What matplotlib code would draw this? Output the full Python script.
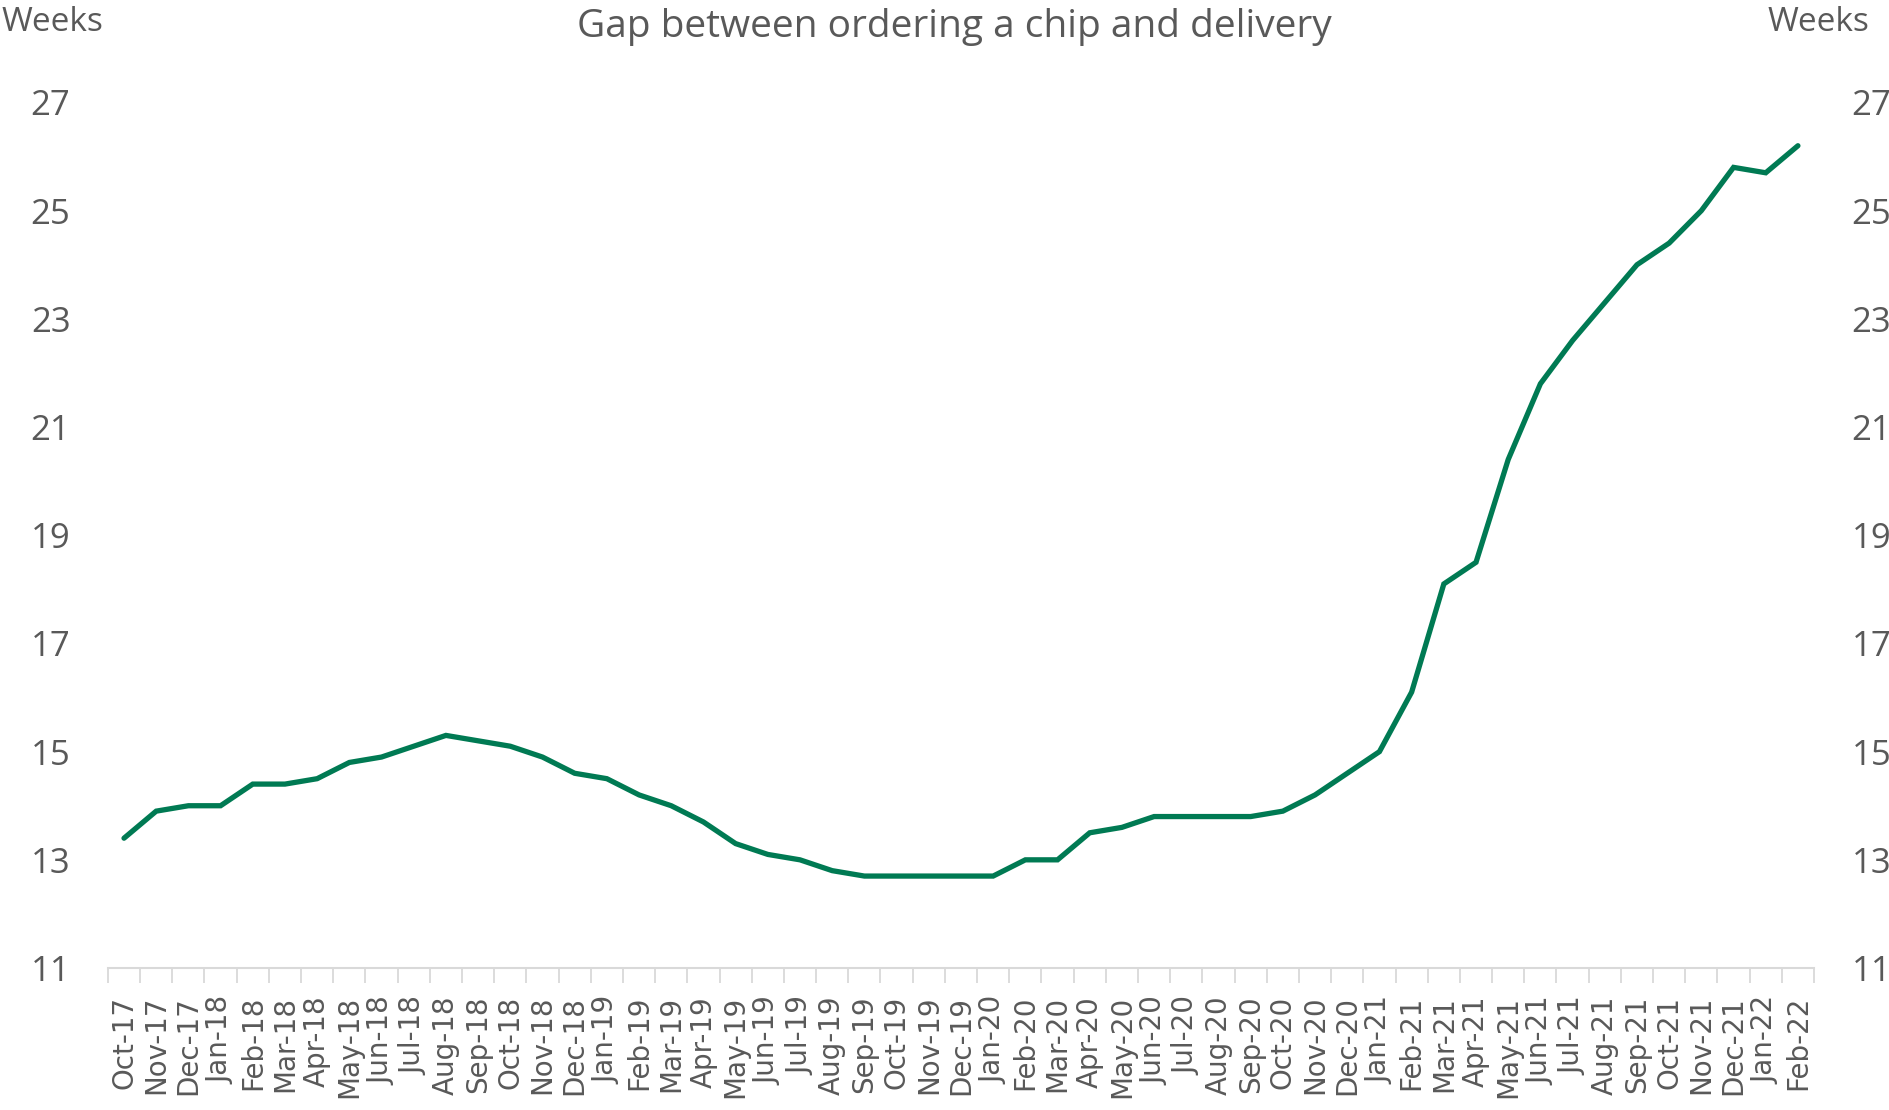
import numpy as np
import matplotlib
matplotlib.use('Agg')
import matplotlib.pyplot as plt
from matplotlib.ticker import FixedLocator

months = ['Oct-17', 'Nov-17', 'Dec-17', 'Jan-18', 'Feb-18', 'Mar-18', 'Apr-18',
          'May-18', 'Jun-18', 'Jul-18', 'Aug-18', 'Sep-18', 'Oct-18', 'Nov-18',
          'Dec-18', 'Jan-19', 'Feb-19', 'Mar-19', 'Apr-19', 'May-19', 'Jun-19',
          'Jul-19', 'Aug-19', 'Sep-19', 'Oct-19', 'Nov-19', 'Dec-19', 'Jan-20',
          'Feb-20', 'Mar-20', 'Apr-20', 'May-20', 'Jun-20', 'Jul-20', 'Aug-20',
          'Sep-20', 'Oct-20', 'Nov-20', 'Dec-20', 'Jan-21', 'Feb-21', 'Mar-21',
          'Apr-21', 'May-21', 'Jun-21', 'Jul-21', 'Aug-21', 'Sep-21', 'Oct-21',
          'Nov-21', 'Dec-21', 'Jan-22', 'Feb-22']
weeks = [13.4, 13.9, 14.0, 14.0, 14.4, 14.4, 14.5,
         14.8, 14.9, 15.1, 15.3, 15.2, 15.1, 14.9,
         14.6, 14.5, 14.2, 14.0, 13.7, 13.3, 13.1,
         13.0, 12.8, 12.7, 12.7, 12.7, 12.7, 12.7,
         13.0, 13.0, 13.5, 13.6, 13.8, 13.8, 13.8,
         13.8, 13.9, 14.2, 14.6, 15.0, 16.1, 18.1,
         18.5, 20.4, 21.8, 22.6, 23.3, 24.0, 24.4,
         25.0, 25.8, 25.7, 26.2]
yticks = [11, 13, 15, 17, 19, 21, 23, 25, 27]

grey = '#595959'
green = '#007A53'
plt.rcParams['font.family'] = ['Open Sans', 'DejaVu Sans']

fig = plt.figure(figsize=(18.9, 11.1), dpi=100)
ax = fig.add_axes([0.0571, 0.1279, 0.9027, 0.7798])
x = np.arange(len(months))
ax.plot(x, weeks, color=green, lw=3.8, solid_joinstyle='miter', solid_capstyle='round')

ax.set_xlim(-0.5, len(months) - 0.5)
ax.set_ylim(11, 27)
ax.set_yticks(yticks)
ax.set_xticks(x)
ax.set_xticklabels(months, rotation=90)
for lbl in ax.get_xticklabels():
    lbl.set_fontfamily('DejaVu Sans')
    lbl.set_fontsize(20)
    lbl.set_color(grey)
ax.xaxis.set_minor_locator(FixedLocator(np.arange(-0.5, len(months), 1.0)))
ax.tick_params(axis='x', which='major', length=0, pad=20)
ax.tick_params(axis='x', which='minor', length=11, color='#D9D9D9', width=1.3)
ax.tick_params(axis='y', length=0, pad=27, labelsize=25, labelcolor=grey)
for s in ['top', 'left', 'right']:
    ax.spines[s].set_visible(False)
ax.spines['bottom'].set_color('#D9D9D9')
ax.spines['bottom'].set_linewidth(1.5)

ax2 = ax.twinx()
ax2.set_ylim(11, 27)
ax2.set_yticks(yticks)
ax2.tick_params(axis='y', length=0, pad=27, labelsize=25, labelcolor=grey)
for s in ax2.spines.values():
    s.set_visible(False)

fig.text(0.505, 0.976, 'Gap between ordering a chip and delivery', ha='center', va='center',
         fontsize=28, color=grey)
fig.text(0.001, 0.98, 'Weeks', ha='left', va='center', fontsize=24, color=grey)
fig.text(0.989, 0.98, 'Weeks', ha='right', va='center', fontsize=24, color=grey)

fig.savefig('out.png', dpi=100)
